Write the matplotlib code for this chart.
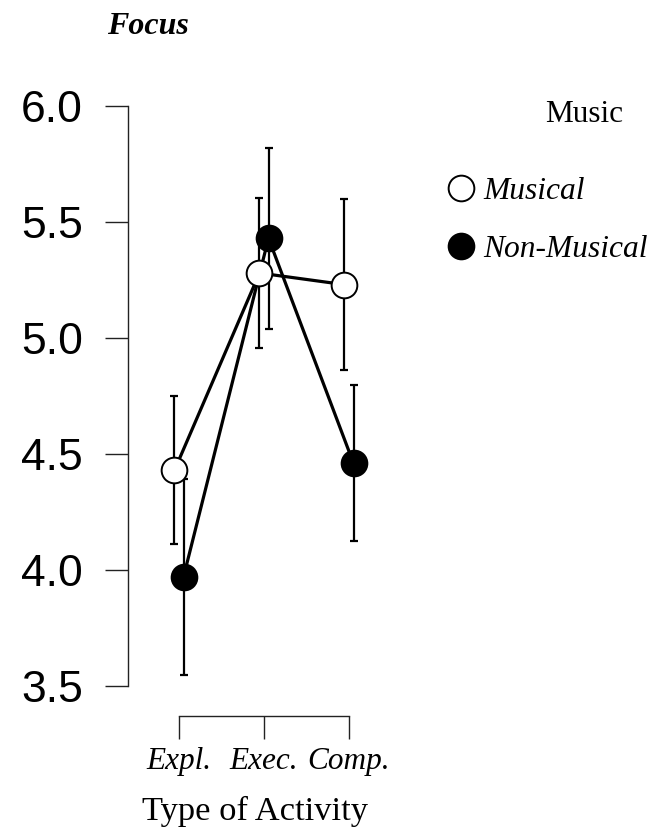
import matplotlib
matplotlib.use("Agg")
import matplotlib.pyplot as plt
from matplotlib.lines import Line2D
import numpy as np

# descriptives for Focus by type of activity and music group
activities = ["Expl.", "Exec.", "Comp."]
groups = ["Musical", "Non-Musical"]
musical_mean = [4.43, 5.28, 5.23]
musical_err = [0.318, 0.325, 0.37]
nonmusical_mean = [3.97, 5.43, 4.46]
nonmusical_err = [0.423, 0.39, 0.337]

serif = "Liberation Serif"
sans = "Liberation Sans"

fig = plt.figure(figsize=(6.57, 8.35), dpi=100)
ax = fig.add_axes([128 / 657, 1 - 716 / 835, 272 / 657, 610 / 835])

x = np.arange(len(activities))
dodge = 0.053
series = [
    (x - dodge, musical_mean, musical_err, "white"),
    (x + dodge, nonmusical_mean, nonmusical_err, "black"),
]

# lines first, then error bars, then the points on top
for xs, m, e, fc in series:
    ax.plot(xs, m, color="black", lw=2.3, zorder=2, clip_on=False)
for xs, m, e, fc in series:
    ax.errorbar(xs, m, yerr=e, fmt="none", ecolor="black", elinewidth=1.6,
                capsize=3, capthick=1.6, zorder=3, clip_on=False)
for xs, m, e, fc in series:
    ax.plot(xs, m, "o", ms=18.5, mfc=fc, mec="black", mew=1.4,
            zorder=4, clip_on=False)

ax.set_xlim(-0.6, 2.6)
ax.set_ylim(3.5 - 30 / 232, 6.0)
ax.set_yticks([3.5, 4.0, 4.5, 5.0, 5.5, 6.0])
ax.set_yticklabels(["3.5", "4.0", "4.5", "5.0", "5.5", "6.0"],
                   fontfamily=sans, fontsize=32)
ax.set_xticks(x)
ax.set_xticklabels(activities, fontfamily=serif, style="italic", fontsize=22.5)
ax.tick_params(axis="y", length=16.5, width=1, pad=16, color="#222222")
ax.tick_params(axis="x", length=16.5, width=1, pad=6, color="#222222")

for side in ["top", "right"]:
    ax.spines[side].set_visible(False)
ax.spines["left"].set_bounds(3.5, 6.0)
ax.spines["bottom"].set_bounds(0, 2)
for side in ["left", "bottom"]:
    ax.spines[side].set_linewidth(1)
    ax.spines[side].set_color("#222222")
ax.patch.set_visible(False)

fig.text(107 / 657, 1 - 34 / 835, "Focus", fontfamily=serif, fontweight="bold",
         style="italic", fontsize=23, va="baseline", ha="left")
fig.text(254.5 / 657, 1 - 820 / 835, "Type of Activity", fontfamily=serif,
         fontsize=24.8, va="baseline", ha="center")

# legend
fig.text(545 / 657, 1 - 122 / 835, "Music", fontfamily=serif, fontsize=22.5,
         va="baseline", ha="left")
for i, (name, fc) in enumerate(zip(groups, ["white", "black"])):
    yc = 1 - (188 + 58 * i) / 835
    fig.add_artist(Line2D([461 / 657], [yc], marker="o", ms=18.5, mfc=fc,
                          mec="black", mew=1.4, transform=fig.transFigure))
    fig.text(483 / 657, 1 - (199 + 58 * i) / 835, name, fontfamily=serif,
             style="italic", fontsize=22.7, va="baseline", ha="left")

fig.savefig("out.png", dpi=100)
